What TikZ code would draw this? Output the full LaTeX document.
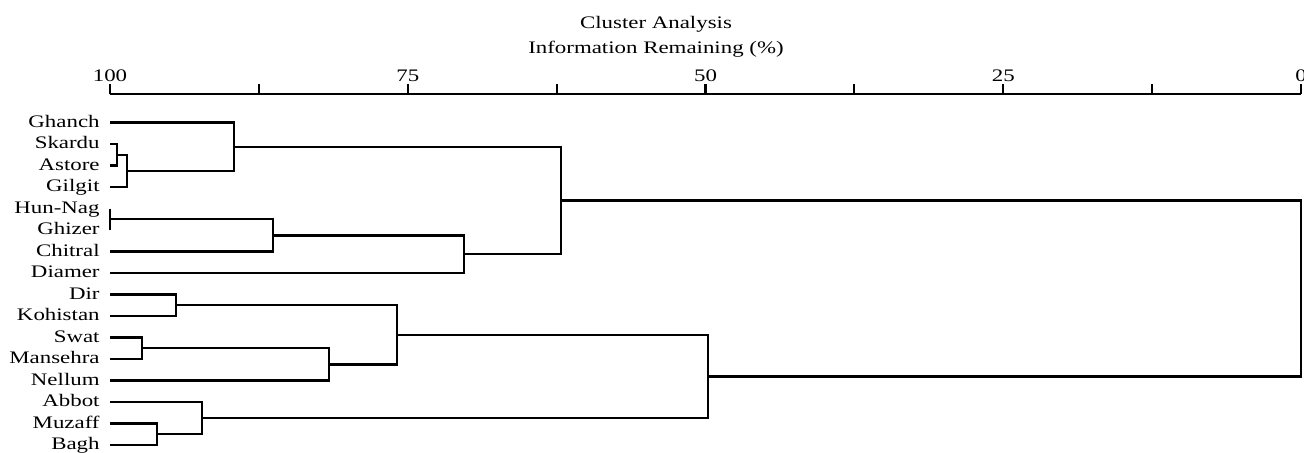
\documentclass[tikz,border=0pt]{standalone}
\usepackage{fontspec}
\setmainfont{Liberation Serif}[FakeStretch=1.3]
\begin{document}
\begin{tikzpicture}[x=0.5pt,y=-0.5pt,
  txt/.style={inner sep=0pt,font=\fontsize{8.8pt}{10pt}\selectfont},
  leaf/.style={txt,anchor=mid east},
  num/.style={txt,anchor=base},
  dend/.style={line width=1.1pt,line join=miter},
  axisline/.style={line width=1.1pt}]
\useasboundingbox (0,0) rectangle (1304,452);
% titles
\node[num] (title1) at (656,28) {Cluster Analysis};
\node[num] (title2) at (656,53) {Information Remaining (\%)};
% axis
\foreach \k in {0,...,8}{
  \coordinate (t\k) at ({110+148.875*\k},94);
  \coordinate (u\k) at ({110+148.875*\k},84);
}
\draw[axisline] (t0) -- (t8);
\foreach \k in {0,...,8}{\draw[axisline] (t\k) -- (u\k);}
\node[num] (v100) at (110,81) {100};
\node[num] (v75) at (407.75,81) {75};
\node[num] (v50) at (705.5,81) {50};
\node[num] (v25) at (1003.25,81) {25};
\node[num] (v0) at (1301,81) {0};
% leaves
\foreach \i/\name in {1/Ghanch,2/Skardu,3/Astore,4/Gilgit,5/Hun-Nag,6/Ghizer,7/Chitral,8/Diamer,9/Dir,10/Kohistan,11/Swat,12/Mansehra,13/Nellum,14/Abbot,15/Muzaff,16/Bagh}{
  \node[leaf] (n\i) at (100,{122.5+21.5*(\i-1)}) {\name};
  \coordinate (l\i) at (110,{122.5+21.5*(\i-1)});
}
% merge points
\coordinate (A) at (117,154.75);
\coordinate (B) at (127,170.9);
\coordinate (C) at (234,146.7);
\coordinate (D) at (110,219.25);
\coordinate (E) at (273,235.4);
\coordinate (F) at (464,254.2);
\coordinate (G) at (561,200.5);
\coordinate (H) at (176,305.25);
\coordinate (I) at (142,348.25);
\coordinate (J) at (329,364.4);
\coordinate (K) at (397,334.8);
\coordinate (L) at (157,434.25);
\coordinate (M) at (202,418.1);
\coordinate (N) at (708,376.5);
\coordinate (O) at (1301,288.5);
% dendrogram
\draw[dend] (l2) -| (A) |- (l3);
\draw[dend] (A) -| (B) |- (l4);
\draw[dend] (l1) -| (C) |- (B);
\draw[dend] (l5) -| (D) |- (l6);
\draw[dend] (D) -| (E) |- (l7);
\draw[dend] (E) -| (F) |- (l8);
\draw[dend] (C) -| (G) |- (F);
\draw[dend] (l9) -| (H) |- (l10);
\draw[dend] (l11) -| (I) |- (l12);
\draw[dend] (I) -| (J) |- (l13);
\draw[dend] (H) -| (K) |- (J);
\draw[dend] (l15) -| (L) |- (l16);
\draw[dend] (l14) -| (M) |- (L);
\draw[dend] (K) -| (N) |- (M);
\draw[dend] (G) -| (O) |- (N);
\end{tikzpicture}
\end{document}
